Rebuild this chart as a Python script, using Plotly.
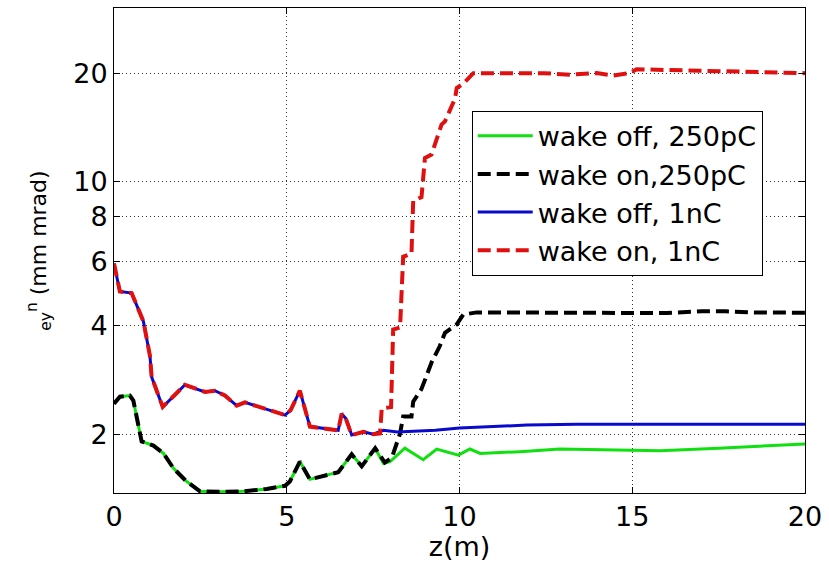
import plotly.graph_objects as go

# --- 250 pC, wake off (green) ---
z_off_250 = [0.00, 0.17, 0.46, 0.56, 0.80, 1.14, 1.43, 1.72, 2.10, 2.49, 3.07, 3.74, 4.42,
             4.95, 5.09, 5.38, 5.67, 6.49, 6.88, 7.17, 7.56, 7.80, 7.99, 8.42, 8.95, 9.34,
             9.97, 10.30, 10.60, 11.75, 12.90, 14.50, 15.80, 17.50, 20.00]
eps_off_250 = [2.43, 2.54, 2.56, 2.48, 1.91, 1.86, 1.77, 1.61, 1.48, 1.39, 1.385, 1.39, 1.41,
               1.44, 1.48, 1.68, 1.50, 1.57, 1.76, 1.63, 1.83, 1.66, 1.68, 1.83, 1.70, 1.82,
               1.75, 1.82, 1.77, 1.79, 1.82, 1.81, 1.80, 1.83, 1.88]

# --- 250 pC, wake on (black dashed) ---
z_on_250 = [0.00, 0.17, 0.46, 0.56, 0.80, 1.14, 1.43, 1.72, 2.10, 2.49, 3.07, 3.74, 4.42,
            4.95, 5.09, 5.38, 5.67, 6.49, 6.88, 7.17, 7.56, 7.84, 8.04, 8.28, 8.37, 8.61,
            8.66, 8.90, 9.05, 9.19, 9.43, 9.58, 9.92, 10.11, 10.50, 12.00, 13.87, 16.00,
            17.00, 17.70, 18.50, 20.00]
eps_on_250 = [2.43, 2.54, 2.56, 2.48, 1.91, 1.86, 1.77, 1.61, 1.48, 1.39, 1.385, 1.39, 1.41,
              1.44, 1.48, 1.68, 1.50, 1.57, 1.76, 1.63, 1.83, 1.67, 1.72, 2.01, 2.24, 2.24,
              2.46, 2.67, 2.91, 3.16, 3.51, 3.82, 4.03, 4.29, 4.35, 4.34, 4.34, 4.33,
              4.38, 4.38, 4.35, 4.34]

# --- 1 nC, wake off (blue) ---
z_off_1n = [0.00, 0.17, 0.51, 0.85, 1.04, 1.09, 1.41, 2.05, 2.63, 2.92, 3.21, 3.55, 3.79,
            4.95, 5.11, 5.38, 5.67, 6.49, 6.59, 6.71, 6.88, 7.22, 7.50, 7.80, 8.20, 8.66,
            9.30, 10.00, 11.00, 11.95, 13.40, 15.00, 16.80, 18.50, 20.00]
eps_off_1n = [5.94, 4.97, 4.92, 4.11, 3.30, 2.88, 2.38, 2.74, 2.62, 2.64, 2.56, 2.40, 2.45,
              2.26, 2.33, 2.64, 2.10, 2.05, 2.28, 2.21, 1.99, 2.03, 2.00, 2.05, 2.03, 2.04,
              2.05, 2.08, 2.10, 2.12, 2.13, 2.13, 2.12, 2.12, 2.13]

# --- 1 nC, wake on (red dashed) ---
z_on_1n = [0.00, 0.17, 0.51, 0.85, 1.04, 1.09, 1.41, 2.05, 2.63, 2.92, 3.21, 3.55, 3.79,
           4.95, 5.11, 5.38, 5.67, 6.49, 6.59, 6.71, 6.88, 7.22, 7.50, 7.70, 7.75, 8.02,
           8.08, 8.28, 8.37, 8.61, 8.66, 8.90, 9.00, 9.19, 9.48, 9.58, 9.87, 9.92, 10.11,
           10.40, 11.50, 12.43, 13.20, 13.97, 14.45, 14.93, 15.13, 16.86, 18.50, 20.00]
eps_on_1n = [5.94, 4.97, 4.92, 4.11, 3.30, 2.88, 2.38, 2.74, 2.62, 2.64, 2.56, 2.40, 2.45,
             2.26, 2.33, 2.64, 2.10, 2.05, 2.28, 2.21, 1.99, 2.03, 2.00, 2.01, 2.36, 2.38,
             3.90, 3.95, 6.20, 6.32, 8.86, 9.07, 11.64, 11.90, 14.40, 14.70, 17.00, 18.20,
             18.70, 20.00, 20.00, 20.00, 19.80, 20.00, 19.70, 20.00, 20.50, 20.30, 20.10, 20.00]

x_ticks = [0, 5, 10, 15, 20]
y_ticks = [2, 4, 6, 8, 10, 20]
y_tick_text = ["2", "4", "6", "8", "10", "20"]

FONT = "DejaVu Sans, Liberation Sans, Arial"
DASH = "13px,6px"

fig = go.Figure()
fig.add_trace(go.Scatter(x=z_off_250, y=eps_off_250, mode="lines", name="wake off, 250pC",
                         line=dict(color="#10e010", width=3)))
fig.add_trace(go.Scatter(x=z_on_250, y=eps_on_250, mode="lines", name="wake on,250pC",
                         line=dict(color="#000000", width=4, dash=DASH)))
fig.add_trace(go.Scatter(x=z_off_1n, y=eps_off_1n, mode="lines", name="wake off, 1nC",
                         line=dict(color="#0a0acc", width=3)))
fig.add_trace(go.Scatter(x=z_on_1n, y=eps_on_1n, mode="lines", name="wake on, 1nC",
                         line=dict(color="#e01010", width=4, dash=DASH)))

axis_common = dict(
    showline=True, linecolor="black", linewidth=1, mirror="allticks",
    ticks="inside", ticklen=6, tickcolor="black", tickwidth=1,
    showgrid=True, gridcolor="#333333", gridwidth=1, griddash="1px,3px",
    zeroline=False, tickfont=dict(family=FONT, size=27, color="black"),
)

fig.update_layout(
    width=829, height=562,
    margin=dict(l=114, r=24, t=7, b=65),
    paper_bgcolor="white", plot_bgcolor="white",
    font=dict(family=FONT, color="black"),
    xaxis=dict(range=[0, 20], tickvals=x_ticks,
               title=dict(text="z(m)", font=dict(family=FONT, size=27), standoff=4),
               **axis_common),
    yaxis=dict(type="log", range=[0.1383, 1.4814], tickvals=y_ticks, ticktext=y_tick_text,
               title=dict(text="<sub>ey</sub><sup>n</sup> (mm mrad)",
                          font=dict(family=FONT, size=22), standoff=20),
               **axis_common),
    legend=dict(x=0.5177, y=0.788, xanchor="left", yanchor="top",
                bgcolor="white", bordercolor="black", borderwidth=1,
                font=dict(family=FONT, size=27, color="black"),
                itemwidth=55, tracegroupgap=0),
    showlegend=True,
)

fig.write_html("out.html")
